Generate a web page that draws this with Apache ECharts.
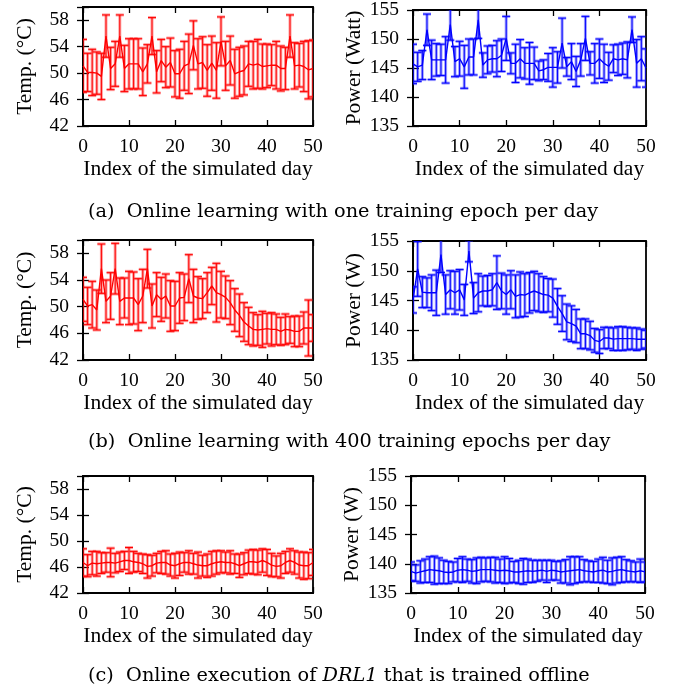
<!DOCTYPE html>
<html>
<head>
<meta charset="utf-8">
<script src="https://cdn.jsdelivr.net/npm/echarts@6/dist/echarts.min.js"></script>
<style>
  html, body { margin: 0; padding: 0; background: #fff; }
  #chart { width: 688px; height: 694px; }
</style>
</head>
<body>
<div id="chart"></div>
<script>
// (a) one training epoch per day
var tempA = [51.1, 50.1, 50.1, 50.0, 49.5, 55.6, 50.7, 51.4, 55.6, 50.7, 51.4, 51.4, 51.4, 50.2, 51.4, 55.6, 50.2,
  51.9, 50.9, 51.6, 49.9, 49.9, 51.1, 51.4, 54.2, 51.4, 51.6, 50.4, 51.5, 50.4, 54.8, 51.1, 51.9, 49.9, 50.2,
  50.4, 51.4, 51.2, 51.4, 51.0, 51.1, 51.2, 51.2, 50.7, 50.7, 55.6, 51.1, 51.2, 51.0, 50.5, 50.7];
var tempAErr = [4.0, 2.9, 3.5, 3.2, 3.5, 3.2, 3.2, 3.4, 3.2, 3.5, 3.8, 3.8, 3.8, 3.6, 2.9, 2.8, 3.2, 3.2, 3.1,
  3.7, 3.5, 3.7, 3.7, 4.5, 3.7, 3.8, 3.9, 3.9, 4.1, 4.2, 3.7, 3.7, 3.7, 3.7, 3.7, 3.7, 3.4, 3.6, 3.7, 3.4, 3.3,
  3.1, 3.6, 3.4, 3.2, 3.2, 3.5, 3.3, 3.8, 4.4, 4.3];
var powerA = [145.7, 145.2, 145.5, 151.6, 146.4, 146.4, 146.4, 146.4, 152.5, 146.1, 146.6, 145.2, 146.9, 146.9,
  153.3, 145.5, 146.4, 146.6, 146.6, 147.2, 150.1, 145.8, 145.8, 146.6, 145.8, 145.8, 145.8, 144.5, 144.7, 145.1,
  145.1, 145.1, 149.3, 145.2, 146.1, 144.4, 146.4, 150.1, 145.8, 145.8, 146.6, 145.8, 145.3, 146.6, 146.4,
  146.6, 146.4, 151.6, 145.8, 146.6, 145.0];
var powerAErr = [3.4, 2.5, 2.5, 2.7, 3.4, 2.8, 2.7, 4.0, 2.7, 2.6, 3.0, 3.7, 3.1, 3.1, 3.2, 2.1, 2.4, 2.3, 3.1,
  2.8, 3.8, 1.8, 3.3, 3.3, 2.7, 3.6, 2.8, 1.7, 1.7, 2.4, 3.4, 2.7, 4.3, 1.6, 3.1, 2.6, 2.8, 3.8, 2.0, 3.4, 3.4,
  3.3, 2.4, 2.4, 2.7, 2.7, 3.1, 2.2, 4.1, 3.8, 3.3];

// (b) 400 training epochs per day
var tempB = [51.1, 50.1, 50.3, 49.5, 55.7, 50.8, 51.6, 55.7, 50.8, 51.3, 51.3, 51.3, 50.3, 51.6, 55.7, 50.1,
  51.8, 51.1, 51.6, 50.1, 50.1, 51.3, 51.4, 54.2, 51.6, 51.3, 51.2, 52.1, 53.1, 52.1, 51.8, 51.4, 50.6, 49.5,
  48.7, 47.7, 47.1, 46.6, 46.5, 46.6, 46.7, 46.6, 46.6, 46.3, 46.6, 46.5, 46.3, 46.3, 46.8, 46.8, 46.8];
var tempBErr = [3.3, 2.8, 3.5, 3.0, 3.7, 3.2, 3.5, 3.8, 3.5, 3.0, 4.0, 3.9, 3.9, 4.0, 2.9, 3.3, 3.3, 3.3, 3.3,
  3.8, 3.7, 3.8, 3.5, 3.6, 4.0, 3.2, 3.0, 3.0, 2.8, 4.4, 3.5, 3.2, 3.3, 3.2, 3.2, 2.9, 2.8, 2.5, 2.3, 2.7, 2.3,
  2.5, 2.3, 2.1, 2.3, 2.0, 2.3, 2.3, 2.4, 4.2, 2.0];
var powerB = [145.1, 150.3, 146.4, 146.3, 146.3, 146.3, 152.7, 146.0, 146.8, 146.3, 146.8, 145.1, 153.3, 145.4,
  146.3, 146.6, 146.6, 146.8, 148.0, 146.6, 146.0, 146.8, 145.7, 146.0, 145.9, 146.3, 146.6, 146.3, 146.0,
  145.9, 145.4, 144.0, 142.8, 141.4, 141.1, 140.7, 139.4, 139.4, 139.1, 138.3, 138.1, 138.7, 138.7, 138.5,
  138.6, 138.6, 138.6, 138.6, 138.5, 138.5, 138.5];
var powerBErr = [2.2, 4.6, 2.6, 2.5, 3.0, 3.8, 3.0, 3.3, 3.2, 3.6, 3.4, 2.6, 1.8, 2.6, 3.2, 2.5, 2.6, 2.7, 4.5,
  3.0, 3.3, 3.2, 3.6, 3.8, 3.6, 3.4, 3.3, 3.2, 3.0, 2.8, 3.2, 3.0, 3.0, 3.0, 3.0, 2.8, 2.5, 2.5, 2.4, 2.0, 2.0,
  1.8, 1.8, 1.9, 2.0, 2.0, 1.9, 1.8, 1.9, 1.7, 1.5];

// (c) DRL1 trained offline
var tempC = [46.7, 46.2, 46.6, 46.5, 46.6, 46.7, 46.7, 46.6, 46.8, 47.0, 47.0, 46.8, 46.7, 46.5, 46.1, 46.2,
  46.6, 46.7, 46.7, 46.3, 46.2, 46.5, 46.7, 46.7, 46.5, 46.3, 46.2, 46.2, 46.5, 46.7, 46.8, 46.7, 46.7, 46.5,
  46.2, 46.5, 46.8, 46.8, 46.7, 47.0, 46.7, 46.3, 46.1, 46.2, 46.7, 47.0, 46.7, 46.3, 46.2, 46.2, 46.7];
var tempCErr = [2.1, 1.7, 1.8, 1.9, 1.6, 1.5, 2.2, 1.5, 1.5, 1.4, 2.0, 1.6, 1.4, 1.5, 1.8, 1.6, 1.5, 1.7, 1.8,
  1.7, 1.9, 1.8, 1.5, 1.8, 1.6, 2.0, 1.6, 1.8, 1.9, 1.8, 1.7, 1.6, 1.8, 1.5, 1.8, 1.7, 1.8, 1.9, 1.9, 1.8, 2.0,
  1.8, 1.6, 1.9, 1.7, 1.8, 1.8, 2.0, 2.1, 2.0, 2.0];
var powerC = [138.7, 138.4, 138.6, 138.8, 139.0, 138.9, 138.8, 138.6, 138.5, 138.6, 138.9, 139.0, 138.9, 138.7,
  138.8, 139.0, 139.0, 139.0, 138.9, 138.8, 138.9, 138.8, 138.6, 138.6, 138.7, 138.8, 138.7, 138.8, 138.9,
  138.7, 138.9, 138.8, 138.6, 138.7, 138.8, 138.9, 139.0, 138.8, 138.7, 138.6, 138.8, 138.9, 138.6, 138.7,
  138.9, 139.0, 138.8, 138.7, 138.6, 138.8, 138.6];
var powerCErr = [1.6, 1.4, 1.9, 2.0, 2.2, 2.4, 2.2, 2.0, 1.9, 1.7, 2.0, 2.2, 1.9, 2.0, 2.2, 2.1, 2.0, 2.1, 2.2,
  2.0, 2.3, 2.1, 1.8, 2.0, 2.2, 2.0, 1.9, 1.8, 1.7, 1.9, 1.7, 1.6, 1.9, 2.0, 2.4, 2.3, 2.2, 1.9, 1.8, 1.8, 2.0,
  2.2, 2.0, 2.3, 2.2, 2.2, 1.9, 1.8, 1.7, 2.0, 1.7];

var xTicks = [0, 10, 20, 30, 40, 50];
var tempTicks = [42, 46, 50, 54, 58];
var powerTicks = [135, 140, 145, 150, 155];
var xName = 'Index of the simulated day';
var captions = [
  '(a)  Online learning with one training epoch per day',
  '(b)  Online learning with 400 training epochs per day'
];

var RED = '#ff0000', RED_LIGHT = 'rgba(255,40,40,0.45)';
var BLUE = '#0000ff', BLUE_LIGHT = 'rgba(40,40,255,0.45)';
var FONT = 'Liberation Serif';
var CAP_FONT = 'DejaVu Serif';

var panels = [
  { rect: [83, 7, 230, 119], mean: tempA, err: tempAErr, c: RED, cl: RED_LIGHT, ticks: tempTicks, yName: 'Temp. (°C)' },
  { rect: [413, 7, 233, 119], mean: powerA, err: powerAErr, c: BLUE, cl: BLUE_LIGHT, ticks: powerTicks, yName: 'Power (Watt)' },
  { rect: [83, 240, 230, 120], mean: tempB, err: tempBErr, c: RED, cl: RED_LIGHT, ticks: tempTicks, yName: 'Temp. (°C)' },
  { rect: [413, 241, 233, 119], mean: powerB, err: powerBErr, c: BLUE, cl: BLUE_LIGHT, ticks: powerTicks, yName: 'Power (W)' },
  { rect: [83, 476, 230, 117], mean: tempC, err: tempCErr, c: RED, cl: RED_LIGHT, ticks: tempTicks, yName: 'Temp. (°C)' },
  { rect: [411, 476, 234, 117], mean: powerC, err: powerCErr, c: BLUE, cl: BLUE_LIGHT, ticks: powerTicks, yName: 'Power (W)' }
];

function errRender(color, light) {
  return function (params, api) {
    var x = api.value(0), m = api.value(1), e = api.value(2);
    var hi = api.coord([x, m + e]), lo = api.coord([x, m - e]);
    var w = 4;
    var segs = [
      [hi[0], hi[1], lo[0], lo[1]],
      [hi[0] - w, hi[1], hi[0] + w, hi[1]],
      [lo[0] - w, lo[1], lo[0] + w, lo[1]]
    ];
    var children = [];
    segs.forEach(function (s) {
      children.push({ type: 'line', shape: { x1: s[0], y1: s[1], x2: s[2], y2: s[3] }, style: { stroke: light, lineWidth: 3 } });
    });
    segs.forEach(function (s) {
      children.push({ type: 'line', shape: { x1: s[0], y1: s[1], x2: s[2], y2: s[3] }, style: { stroke: color, lineWidth: 1 } });
    });
    return { type: 'group', children: children };
  };
}

var tickStyle = { inside: true, length: 6, lineStyle: { color: '#000', width: 1.3 } };
var labelStyle = { color: '#000', fontFamily: FONT, fontSize: 19.5 };
var nameStyle = { color: '#000', fontFamily: FONT, fontSize: 21.5 };

var grid = [], xAxis = [], yAxis = [], series = [];
panels.forEach(function (p, k) {
  var ymin = p.ticks[0], ymax = p.ticks[p.ticks.length - 1];
  if (p.ticks === tempTicks) ymax = 60;
  grid.push({ left: p.rect[0], top: p.rect[1], width: p.rect[2], height: p.rect[3],
    show: true, borderColor: '#000', borderWidth: 1.8, backgroundColor: '#fff' });
  // bottom + mirrored top
  xAxis.push({ type: 'value', gridIndex: k, min: 0, max: 50, interval: 10, position: 'bottom',
    axisLine: { show: true, onZero: false, lineStyle: { color: '#000', width: 1.8 } },
    axisTick: tickStyle, splitLine: { show: false },
    axisLabel: Object.assign({ margin: 11 }, labelStyle),
    name: xName, nameLocation: 'middle', nameGap: 32, nameTextStyle: nameStyle });
  xAxis.push({ type: 'value', gridIndex: k, min: 0, max: 50, interval: 10, position: 'top',
    axisLine: { show: false }, axisTick: tickStyle, axisLabel: { show: false }, splitLine: { show: false } });
  // left + mirrored right
  yAxis.push({ type: 'value', gridIndex: k, min: ymin, max: ymax, interval: p.ticks[1] - p.ticks[0], position: 'left',
    axisLine: { show: true, onZero: false, lineStyle: { color: '#000', width: 1.8 } },
    axisTick: tickStyle, splitLine: { show: false },
    axisLabel: Object.assign({ margin: 14, formatter: function (v) { return p.ticks.indexOf(v) >= 0 ? String(v) : ''; } }, labelStyle),
    name: p.yName, nameLocation: 'middle', nameGap: 47, nameRotate: 90, nameTextStyle: nameStyle });
  yAxis.push({ type: 'value', gridIndex: k, min: ymin, max: ymax, interval: p.ticks[1] - p.ticks[0], position: 'right',
    axisLine: { show: false }, axisTick: tickStyle, axisLabel: { show: false }, splitLine: { show: false } });

  var errData = p.mean.map(function (v, i) { return [i, v, p.err[i]]; });
  var lineData = p.mean.map(function (v, i) { return [i, v]; });
  series.push({ type: 'custom', xAxisIndex: 2 * k, yAxisIndex: 2 * k, clip: true, silent: true,
    renderItem: errRender(p.c, p.cl), data: errData, encode: { x: 0, y: 1 }, z: 2 });
  series.push({ type: 'line', xAxisIndex: 2 * k, yAxisIndex: 2 * k, data: lineData, showSymbol: false,
    lineStyle: { color: p.c, width: 1.4 }, itemStyle: { color: p.c }, z: 3, silent: true });
});

var capStyle = { fill: '#000', fontFamily: CAP_FONT, fontSize: 19.3 };
var graphic = [
  { type: 'text', left: 88, top: 202, style: Object.assign({ text: captions[0] }, capStyle) },
  { type: 'text', left: 88, top: 432, style: Object.assign({ text: captions[1] }, capStyle) },
  { type: 'text', left: 88, top: 666, style: Object.assign({
      text: '(c)  Online execution of {i|DRL1} that is trained offline',
      rich: { i: { fontStyle: 'italic', fontFamily: CAP_FONT, fontSize: 19.3, fill: '#000' } } }, capStyle) }
];

var chart = echarts.init(document.getElementById('chart'));
chart.setOption({
  animation: false,
  backgroundColor: '#fff',
  grid: grid,
  xAxis: xAxis,
  yAxis: yAxis,
  series: series,
  graphic: graphic
});
</script>
</body>
</html>
